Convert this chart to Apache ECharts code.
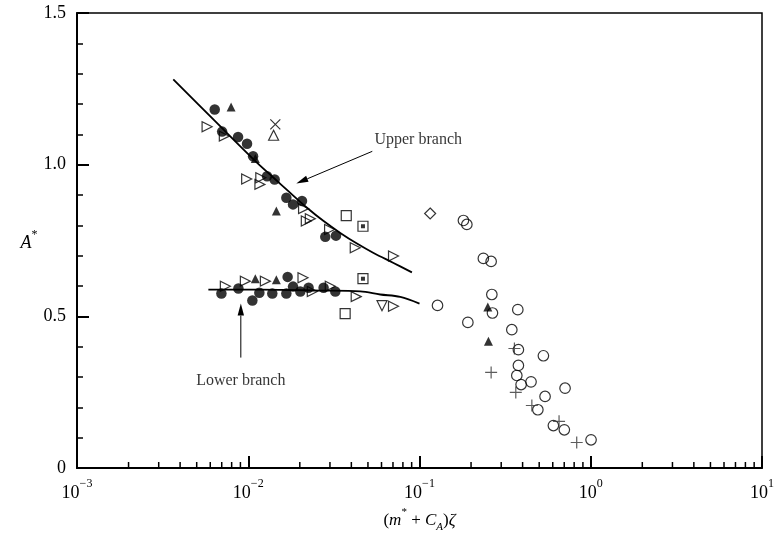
<!DOCTYPE html>
<html>
<head>
<meta charset="utf-8">
<script src="https://cdn.jsdelivr.net/npm/echarts@6/dist/echarts.min.js"></script>
<style>
html, body { margin: 0; padding: 0; background: #fff; }
#chart { width: 775px; height: 533px; }
</style>
</head>
<body>
<div id="chart"></div>
<script>
// Each point: [(m* + C_A)ζ, A*]
const solidCircles = [
  [0.00637, 1.182], [0.00704, 1.109], [0.00872, 1.091], [0.00984, 1.069],
  [0.01067, 1.028], [0.01288, 0.962], [0.01426, 0.951], [0.01669, 0.891],
  [0.01826, 0.869], [0.0206, 0.880], [0.02817, 0.762], [0.03253, 0.766],
  [0.00697, 0.575], [0.00876, 0.592], [0.01057, 0.552], [0.01161, 0.578],
  [0.01382, 0.575], [0.01698, 0.630], [0.01669, 0.575], [0.01826, 0.598],
  [0.02014, 0.582], [0.02251, 0.594], [0.02754, 0.594], [0.03224, 0.582]
];
const solidTriangles = [
  [0.00794, 1.190], [0.0110, 1.020], [0.01459, 0.847],
  [0.0110, 0.624], [0.01459, 0.621],
  [0.2506, 0.531], [0.2527, 0.418]
];
const openRightTriangles = [
  [0.00575, 1.125], [0.00725, 1.094], [0.00979, 0.953], [0.01184, 0.957],
  [0.0117, 0.935], [0.02104, 0.855], [0.02183, 0.814], [0.02304, 0.822],
  [0.02985, 0.786], [0.04215, 0.726], [0.07051, 0.699],
  [0.00735, 0.599], [0.00962, 0.616], [0.01259, 0.616], [0.02088, 0.627],
  [0.03013, 0.599], [0.02366, 0.582], [0.0427, 0.565], [0.0705, 0.533]
];
const openDownTriangles = [[0.0604, 0.535]];
const openUpTriangles = [[0.01406, 1.097]];
const crosses = [[0.01439, 1.133]];
const openSquares = [[0.03735, 0.832], [0.0368, 0.509]];
const dottedSquares = [[0.04676, 0.797], [0.04676, 0.624]];
const openDiamonds = [[0.1154, 0.839]];
const openCircles = [
  [0.1805, 0.816], [0.189, 0.803], [0.236, 0.691], [0.262, 0.681],
  [0.2645, 0.572], [0.1274, 0.536], [0.2667, 0.511], [0.375, 0.522],
  [0.1916, 0.480], [0.346, 0.456], [0.378, 0.390], [0.529, 0.370],
  [0.378, 0.338], [0.370, 0.305], [0.448, 0.284], [0.392, 0.275],
  [0.708, 0.263], [0.541, 0.236], [0.491, 0.192], [0.605, 0.140],
  [0.701, 0.126], [1.004, 0.093]
];
const pluses = [
  [0.3583, 0.394], [0.262, 0.315], [0.365, 0.249], [0.453, 0.206],
  [0.653, 0.154], [0.828, 0.084]
];

// Fitted branch curves
const upperFitX = [0.00365, 0.00634, 0.0110, 0.01406, 0.0176, 0.02203, 0.02754, 0.03446, 0.04313, 0.05391, 0.0705, 0.0903];
const upperFitA = [1.281, 1.146, 1.012, 0.957, 0.907, 0.858, 0.814, 0.775, 0.740, 0.709, 0.676, 0.645];
const lowerFitX = [0.00585, 0.01177, 0.02634, 0.0451, 0.059, 0.0772, 0.1];
const lowerFitA = [0.588, 0.588, 0.585, 0.582, 0.572, 0.564, 0.542];

// Annotations: label position and arrow [fromX, fromA, toX, toA]
const annotationLabels = [
  { name: 'Upper branch', value: [0.0983, 1.083] },
  { name: 'Lower branch', value: [0.00905, 0.288] }
];
const annotationArrows = [
  [0.053, 1.044, 0.01908, 0.938],
  [0.00905, 0.364, 0.00905, 0.542]
];

// Axis ticks
const xMin = 0.001, xMax = 10;
const yMin = 0, yMax = 1.5, yInterval = 0.5;
const xMinorTicks = [];
[0.001, 0.01, 0.1, 1].forEach(d => { for (let k = 2; k <= 9; k++) xMinorTicks.push([d * k, 0]); });

const SERIF = "'Liberation Serif', 'Times New Roman', serif";
const zip = (xs, ys) => xs.map((x, i) => [x, ys[i]]);

const openStyle = { color: 'rgba(255,255,255,0)', borderColor: '#000', borderWidth: 1.2 };
const solidStyle = { color: '#000' };

function scatter(name, data, symbol, size, itemStyle, extra) {
  return Object.assign({
    name, type: 'scatter', data, symbol, symbolSize: size,
    itemStyle, z: 5, silent: true, animation: false
  }, extra || {});
}

const chart = echarts.init(document.getElementById('chart'), null, { renderer: 'canvas' });

const option = {
  animation: false,
  backgroundColor: '#fff',
  grid: {
    left: 77, right: 13, top: 13, bottom: 65,
    containLabel: false, outerBoundsMode: 'none',
    show: true, borderColor: '#000', borderWidth: 1.5, backgroundColor: 'transparent'
  },
  xAxis: {
    type: 'log', logBase: 10, min: xMin, max: xMax,
    name: '{n|(}{i|m}{sup|*}{n| + }{i|C}{sub|A}{n|)}{i|ζ}',
    nameLocation: 'middle', nameGap: 39,
    nameTextStyle: {
      color: '#000', fontFamily: SERIF,
      rich: {
        n: { fontSize: 17, fontFamily: SERIF, color: '#000', padding: [5, 0, 4, 0] },
        i: { fontSize: 17, fontFamily: SERIF, fontStyle: 'italic', color: '#000', padding: [5, 0, 4, 0] },
        sup: { fontSize: 11, fontFamily: SERIF, color: '#000', verticalAlign: 'top' },
        sub: { fontSize: 11, fontFamily: SERIF, fontStyle: 'italic', color: '#000', verticalAlign: 'bottom' }
      }
    },
    axisLine: { show: true, lineStyle: { color: '#000', width: 2 } },
    axisTick: { show: true, inside: true, length: 12, lineStyle: { color: '#000', width: 2 } },
    splitLine: { show: false },
    axisLabel: {
      margin: 10, color: '#000',
      formatter: v => {
        const e = Math.round(Math.log10(v));
        return '{b|10}{e|' + (e < 0 ? '\u2212' + (-e) : e) + '}';
      },
      rich: {
        b: { fontSize: 18, fontFamily: SERIF, color: '#000', padding: [6, 0, 0, 0] },
        e: { fontSize: 12, fontFamily: SERIF, color: '#000', verticalAlign: 'top' }
      }
    }
  },
  yAxis: {
    type: 'value', min: yMin, max: yMax, interval: yInterval,
    name: '{a|A}{s|*}',
    nameLocation: 'middle', nameGap: 38, nameRotate: 0,
    nameTextStyle: {
      rich: {
        a: { fontSize: 18, fontFamily: SERIF, fontStyle: 'italic', color: '#000', padding: [5, 0, 0, 0] },
        s: { fontSize: 12, fontFamily: SERIF, color: '#000', verticalAlign: 'top' }
      }
    },
    axisLine: { show: true, lineStyle: { color: '#000', width: 2 } },
    axisTick: { show: true, inside: true, length: 12, lineStyle: { color: '#000', width: 2 } },
    minorTick: { show: true, splitNumber: 5, length: 6, lineStyle: { color: '#000', width: 1.5 } },
    splitLine: { show: false },
    axisLabel: {
      margin: 11, color: '#000', fontSize: 18, fontFamily: SERIF,
      formatter: v => (v === 0 ? '0' : v.toFixed(1))
    }
  },
  series: [
    {
      name: 'xMinorTicks', type: 'custom', data: xMinorTicks, silent: true, z: 3,
      renderItem: (params, api) => {
        const p = api.coord([api.value(0), api.value(1)]);
        return {
          type: 'line',
          shape: { x1: p[0], y1: p[1], x2: p[0], y2: p[1] - 6 },
          style: { stroke: '#000', lineWidth: 1.5 }
        };
      }
    },
    {
      name: 'upperFit', type: 'line', data: zip(upperFitX, upperFitA), smooth: 0.35,
      showSymbol: false, symbol: 'none', silent: true, z: 4,
      lineStyle: { color: '#000', width: 1.8 }
    },
    {
      name: 'lowerFit', type: 'line', data: zip(lowerFitX, lowerFitA), smooth: 0.35,
      showSymbol: false, symbol: 'none', silent: true, z: 4,
      lineStyle: { color: '#000', width: 1.8 }
    },
    {
      name: 'arrows', type: 'custom', data: annotationArrows, silent: true, z: 4,
      encode: { x: [0, 2], y: [1, 3] },
      renderItem: (params, api) => {
        const p0 = api.coord([api.value(0), api.value(1)]);
        const p1 = api.coord([api.value(2), api.value(3)]);
        const dx = p1[0] - p0[0], dy = p1[1] - p0[1];
        const len = Math.hypot(dx, dy), ux = dx / len, uy = dy / len;
        const hl = 12, hw = 3.2;
        const bx = p1[0] - ux * hl, by = p1[1] - uy * hl;
        return {
          type: 'group',
          children: [
            { type: 'line', shape: { x1: p0[0], y1: p0[1], x2: bx, y2: by }, style: { stroke: '#000', lineWidth: 1 } },
            { type: 'polygon', shape: { points: [[p1[0], p1[1]], [bx - uy * hw, by + ux * hw], [bx + uy * hw, by - ux * hw]] }, style: { fill: '#000' } }
          ]
        };
      }
    },
    {
      name: 'labels', type: 'scatter', data: annotationLabels, symbolSize: 0, silent: true, z: 6,
      label: {
        show: true, position: 'inside', formatter: p => p.name,
        color: '#000', fontSize: 16, fontFamily: SERIF
      }
    },
    scatter('openCircles', openCircles, 'circle', 10.5, openStyle),
    scatter('pluses', pluses, 'path://M0,5L10,5M5,0L5,10', 12, { color: 'none', borderColor: '#333', borderWidth: 1.2 }),
    scatter('openDiamonds', openDiamonds, 'diamond', 11, openStyle),
    scatter('openSquares', openSquares, 'rect', 10, openStyle),
    scatter('dottedSquaresFrame', dottedSquares, 'rect', 10, openStyle),
    scatter('dottedSquaresDot', dottedSquares, 'rect', 4, solidStyle),
    scatter('crosses', crosses, 'path://M0,0L10,10M10,0L0,10', 10, { color: 'none', borderColor: '#000', borderWidth: 1.2 }),
    scatter('openUpTriangles', openUpTriangles, 'triangle', 10, openStyle),
    scatter('openDownTriangles', openDownTriangles, 'triangle', 10, openStyle, { symbolRotate: 180 }),
    scatter('openRightTriangles', openRightTriangles, 'triangle', 10, openStyle, { symbolRotate: -90 }),
    scatter('solidTriangles', solidTriangles, 'triangle', 9, solidStyle),
    scatter('solidCircles', solidCircles, 'circle', 10.5, solidStyle)
  ]
};

chart.setOption(option);
</script>
</body>
</html>
